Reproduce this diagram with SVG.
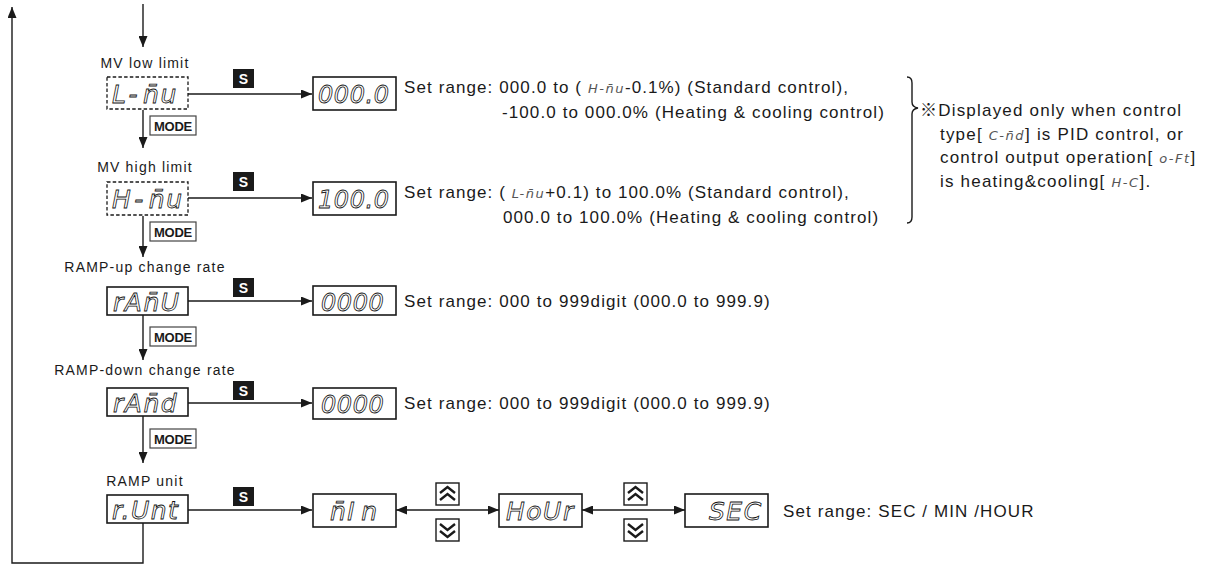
<svg xmlns="http://www.w3.org/2000/svg" width="1227" height="566" viewBox="0 0 1227 566">
<style>
.bg{fill:#fff}
.ln{stroke:#1a1a1a;stroke-width:1.4;fill:none}
.box{fill:#fff;stroke:#1a1a1a;stroke-width:1.6}
.dbox{fill:#fff;stroke:#1a1a1a;stroke-width:1.3;stroke-dasharray:3.5 2.2}
.lbl{font-family:"Liberation Sans","Noto Sans CJK JP",sans-serif;font-size:14px;letter-spacing:1.2px;fill:#1a1a1a;text-anchor:middle}
.txt{font-family:"Liberation Sans","Noto Sans CJK JP",sans-serif;font-size:17px;letter-spacing:1.1px;fill:#1a1a1a}
.note{font-size:17px;letter-spacing:1.2px}
.seg{font-family:"DejaVu Sans",sans-serif;font-size:25px;font-style:oblique;fill:none;stroke:#111;stroke-width:0.8;letter-spacing:1.5px}
.dig{font-size:24px;letter-spacing:0.6px}
.iseg{font-family:"DejaVu Sans",sans-serif;font-size:13px;font-style:oblique;fill:#555;letter-spacing:1.5px}
.sbox{fill:#1a1a1a}
.stx{font-family:"Liberation Sans",sans-serif;font-size:14px;font-weight:bold;fill:#fff;text-anchor:middle}
.mbox{fill:#fff;stroke:#444;stroke-width:1.2}
.mtx{font-family:"Liberation Sans",sans-serif;font-size:13px;font-weight:bold;fill:#1a1a1a;text-anchor:middle;letter-spacing:-0.3px}
.btn{fill:#fff;stroke:#1a1a1a;stroke-width:1.4}
.chev{fill:none;stroke:#1a1a1a;stroke-width:2.4;stroke-linejoin:miter}
</style>
<defs>
<marker id="ah" viewBox="0 0 11 9" refX="11" refY="4.5" markerWidth="11" markerHeight="9" markerUnits="userSpaceOnUse" orient="auto-start-reverse">
<path d="M0,0 L11,4.5 L0,9 z" fill="#1a1a1a"/>
</marker>
<g id="sk"><rect class="sbox" x="0" y="0" width="21" height="19"/><text class="stx" x="10.5" y="15">S</text></g>
<g id="mk"><rect class="mbox" x="0" y="0" width="46" height="19"/><text class="mtx" x="23" y="14.5">MODE</text></g>
<g id="up"><rect class="btn" x="0" y="0" width="23" height="22"/><path class="chev" d="M4,10 L11.5,4 L19,10 M4,17 L11.5,11 L19,17"/></g>
<g id="dn"><rect class="btn" x="0" y="0" width="23" height="22"/><path class="chev" d="M4,5 L11.5,11 L19,5 M4,12 L11.5,18 L19,12"/></g>
</defs>
<rect class="bg" x="0" y="0" width="1227" height="566"/>

<g id="connectors">
<line class="ln" x1="143" y1="4" x2="143" y2="47" marker-end="url(#ah)"/>
<line class="ln" x1="188" y1="94" x2="312" y2="94" marker-end="url(#ah)"/>
<line class="ln" x1="143" y1="110" x2="143" y2="148" marker-end="url(#ah)"/>
<line class="ln" x1="188" y1="198" x2="312" y2="198" marker-end="url(#ah)"/>
<line class="ln" x1="143" y1="216" x2="143" y2="257" marker-end="url(#ah)"/>
<line class="ln" x1="188" y1="301" x2="312" y2="301" marker-end="url(#ah)"/>
<line class="ln" x1="143" y1="315" x2="143" y2="360" marker-end="url(#ah)"/>
<line class="ln" x1="188" y1="403" x2="312" y2="403" marker-end="url(#ah)"/>
<line class="ln" x1="143" y1="416" x2="143" y2="463" marker-end="url(#ah)"/>
<line class="ln" x1="188" y1="510" x2="312" y2="510" marker-end="url(#ah)"/>
<line class="ln" x1="396" y1="510" x2="499" y2="510" marker-start="url(#ah)" marker-end="url(#ah)"/>
<line class="ln" x1="582" y1="510" x2="685" y2="510" marker-start="url(#ah)" marker-end="url(#ah)"/>
<polyline class="ln" points="143,523 143,563 12,563 12,7" marker-end="url(#ah)"/>
<path class="ln" d="M907,77 Q912,77 912,83 L912,102 Q912,107 918,108 Q912,109 912,114 L912,217 Q912,223 907,223"/>
</g>

<g id="node-mv-low">
<text class="lbl" x="145" y="68">MV low limit</text>
<rect class="dbox" x="107" y="77" width="81" height="32"/>
<text class="seg" x="112" y="103">L<tspan dx="3">-</tspan><tspan dx="4">n̄u</tspan></text>
<use href="#sk" x="233" y="69"/>
<use href="#mk" x="150" y="116"/>
</g>
<g id="val-mv-low">
<rect class="box" x="313" y="77" width="83" height="33"/>
<text class="seg dig" x="318" y="103">000.0</text>
<text class="txt" x="404" y="93">Set range: 000.0 to ( <tspan class="iseg">H-n̄u</tspan>-0.1%) (Standard control),</text>
<text class="txt" x="502" y="118">-100.0 to 000.0% (Heating &amp; cooling control)</text>
</g>

<g id="node-mv-high">
<text class="lbl" x="145" y="172">MV high limit</text>
<rect class="dbox" x="107" y="182" width="81" height="33"/>
<text class="seg" x="112" y="208">H<tspan dx="2">-</tspan><tspan dx="4">n̄u</tspan></text>
<use href="#sk" x="233" y="172"/>
<use href="#mk" x="150" y="222"/>
</g>
<g id="val-mv-high">
<rect class="box" x="313" y="182" width="83" height="33"/>
<text class="seg dig" x="318" y="208">100.0</text>
<text class="txt" x="404" y="198">Set range: ( <tspan class="iseg">L-n̄u</tspan>+0.1) to 100.0% (Standard control),</text>
<text class="txt" x="503" y="223">000.0 to 100.0% (Heating &amp; cooling control)</text>
</g>

<g id="note">
<text class="txt note" x="920" y="116">※Displayed only when control</text>
<text class="txt note" x="940" y="140">type[ <tspan class="iseg">C-n̄d</tspan>] is PID control, or</text>
<text class="txt note" x="940" y="163">control output operation[ <tspan class="iseg">o-Ft</tspan>]</text>
<text class="txt note" x="940" y="187">is heating&amp;cooling[ <tspan class="iseg">H-C</tspan>].</text>
</g>

<g id="node-ramp-up">
<text class="lbl" x="145" y="272">RAMP-up change rate</text>
<rect class="box" x="107" y="287" width="81" height="28"/>
<text class="seg" x="113" y="311">rAn̄U</text>
<use href="#sk" x="233" y="278"/>
<use href="#mk" x="150" y="327"/>
</g>
<g id="val-ramp-up">
<rect class="box" x="313" y="286" width="83" height="29"/>
<text class="seg dig" x="321" y="311">0000</text>
<text class="txt" x="404" y="307">Set range: 000 to 999digit (000.0 to 999.9)</text>
</g>

<g id="node-ramp-down">
<text class="lbl" x="145" y="375">RAMP-down change rate</text>
<rect class="box" x="107" y="388" width="81" height="28"/>
<text class="seg" x="113" y="412">rAn̄d</text>
<use href="#sk" x="233" y="381"/>
<use href="#mk" x="150" y="429"/>
</g>
<g id="val-ramp-down">
<rect class="box" x="313" y="388" width="83" height="31"/>
<text class="seg dig" x="321" y="413">0000</text>
<text class="txt" x="404" y="409">Set range: 000 to 999digit (000.0 to 999.9)</text>
</g>

<g id="node-ramp-unit">
<text class="lbl" x="145" y="486">RAMP unit</text>
<rect class="box" x="107" y="495" width="81" height="28"/>
<text class="seg" x="112" y="519">r.Unt</text>
<use href="#sk" x="233" y="487"/>
</g>
<g id="val-min">
<rect class="box" x="313" y="494" width="83" height="33"/>
<text class="seg" x="330" y="520">n̄I<tspan dx="5">n</tspan></text>
</g>
<g id="btns-1">
<use href="#up" x="436" y="483"/>
<use href="#dn" x="436" y="519"/>
</g>
<g id="val-hour">
<rect class="box" x="499" y="494" width="83" height="33"/>
<text class="seg" x="506" y="520">HoUr</text>
</g>
<g id="btns-2">
<use href="#up" x="624" y="483"/>
<use href="#dn" x="624" y="519"/>
</g>
<g id="val-sec">
<rect class="box" x="685" y="494" width="83" height="33"/>
<text class="seg" x="709" y="520">SEC</text>
<text class="txt" x="783" y="517">Set range: SEC / MIN /HOUR</text>
</g>
</svg>
